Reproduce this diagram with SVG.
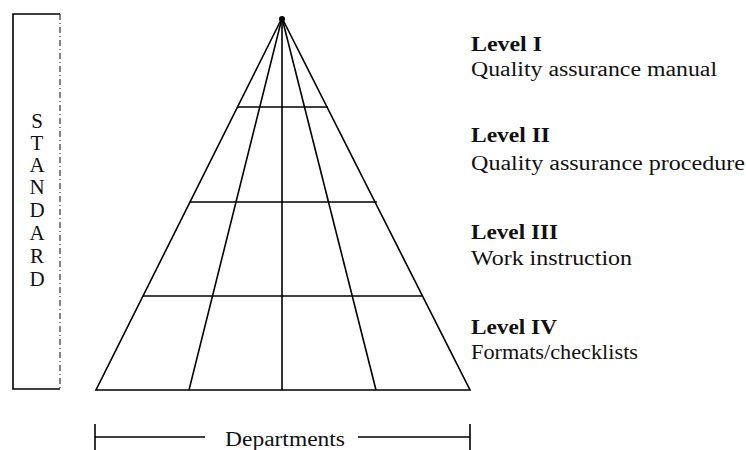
<svg xmlns="http://www.w3.org/2000/svg" width="746" height="450" viewBox="0 0 746 450">
<style>
  .ln { stroke: #000; stroke-width: 1.6; fill: none; }
  text { font-family: 'Times New Roman', 'Liberation Serif', 'DejaVu Serif', serif; fill: #111; }
  .t { font-size: 20px; }
  .b { font-weight: bold; }
  .std { font-size: 21px; text-anchor: middle; }
</style>
<rect width="746" height="450" fill="#fff"/>
<g id="standard">
  <path class="ln" d="M60,14 H13 V389 H60"/>
  <line x1="60" y1="14" x2="60" y2="389" stroke="#444" stroke-width="1.3" stroke-dasharray="6,3,1,3"/>
  <text class="std" x="37" y="128">S</text>
  <text class="std" x="37" y="150">T</text>
  <text class="std" x="37" y="172">A</text>
  <text class="std" x="37" y="194">N</text>
  <text class="std" x="37" y="217">D</text>
  <text class="std" x="37" y="240">A</text>
  <text class="std" x="37" y="263">R</text>
  <text class="std" x="37" y="286">D</text>
</g>
<g id="pyramid">
  <path class="ln" d="M282,18 L96,390 H470 Z"/>
  <line class="ln" x1="282" y1="18" x2="282" y2="390"/>
  <line class="ln" x1="282" y1="18" x2="189" y2="390"/>
  <line class="ln" x1="282" y1="18" x2="376" y2="390"/>
  <line class="ln" x1="237" y1="107" x2="328" y2="107"/>
  <line class="ln" x1="190" y1="202" x2="377" y2="202"/>
  <line class="ln" x1="143" y1="296" x2="423" y2="296"/>
  <circle cx="282" cy="19" r="3" fill="#000"/>
</g>
<g id="levels">
  <text class="t b" x="471" y="51" textLength="71" lengthAdjust="spacingAndGlyphs">Level I</text>
  <text class="t" x="471" y="76" textLength="246" lengthAdjust="spacingAndGlyphs">Quality assurance manual</text>
  <text class="t b" x="471" y="142" textLength="79" lengthAdjust="spacingAndGlyphs">Level II</text>
  <text class="t" x="471" y="170" textLength="274" lengthAdjust="spacingAndGlyphs">Quality assurance procedure</text>
  <text class="t b" x="471" y="239" textLength="87" lengthAdjust="spacingAndGlyphs">Level III</text>
  <text class="t" x="471" y="265" textLength="161" lengthAdjust="spacingAndGlyphs">Work instruction</text>
  <text class="t b" x="471" y="334" textLength="86" lengthAdjust="spacingAndGlyphs">Level IV</text>
  <text class="t" x="471" y="359" textLength="167" lengthAdjust="spacingAndGlyphs">Formats/checklists</text>
</g>
<g id="departments">
  <line class="ln" x1="95" y1="424" x2="95" y2="450"/>
  <line class="ln" x1="470" y1="424" x2="470" y2="450"/>
  <line class="ln" x1="95" y1="437" x2="205" y2="437"/>
  <line class="ln" x1="358" y1="437" x2="470" y2="437"/>
  <text class="t" x="225" y="446" textLength="120" lengthAdjust="spacingAndGlyphs">Departments</text>
</g>
</svg>
